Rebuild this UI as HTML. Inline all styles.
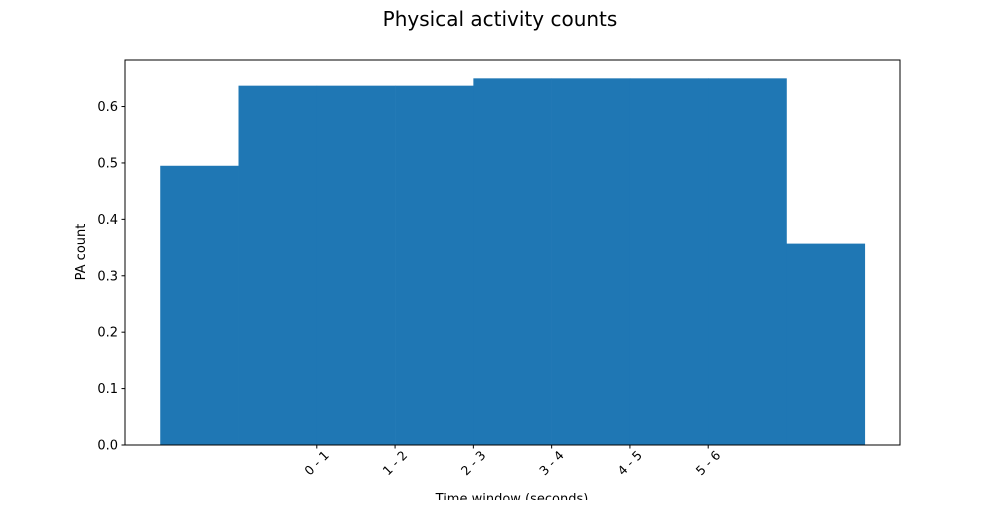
<!DOCTYPE html>
<html><head><meta charset="utf-8"><style>
body{margin:0;background:#fff;}
svg text{font-family:"DejaVu Sans","Liberation Sans",sans-serif;}
</style></head><body>
<svg id="c" width="1000" height="500" viewBox="0 0 1000 500" xmlns="http://www.w3.org/2000/svg">
<rect width="1000" height="500" fill="#fff"/>
<text x="500" y="26" font-size="20" text-anchor="middle">Physical activity counts</text>
<g id="bars"></g>
<g id="axes"></g>
<text x="512" y="503" font-size="13" text-anchor="middle">Time window (seconds)</text>
<text transform="translate(85,252) rotate(-90)" font-size="13" text-anchor="middle">PA count</text>
</svg>
<script>
const values = [0.495, 0.637, 0.637, 0.637, 0.65, 0.65, 0.65, 0.65, 0.357];
const tickLabels = ["0 - 1", "1 - 2", "2 - 3", "3 - 4", "4 - 5", "5 - 6"];
const tickEdges = [2, 3, 4, 5, 6, 7];
const yTicks = [0, 0.1, 0.2, 0.3, 0.4, 0.5, 0.6];
const NS = "http://www.w3.org/2000/svg";
const L = 125, R = 900, T = 60, B = 445;
const n = values.length, xmin = -0.05 * n, xmax = n * 1.05;
const ymax = Math.max(...values) * 1.05;
const xs = v => L + (v - xmin) / (xmax - xmin) * (R - L);
const ys = v => B - v / ymax * (B - T);
function mk(tag, attrs, parent) { const e = document.createElementNS(NS, tag); for (const k in attrs) e.setAttribute(k, attrs[k]); parent.appendChild(e); return e; }
const bars = document.getElementById('bars'), axes = document.getElementById('axes');
values.forEach((v, i) => {
  const r = mk('rect', {x: xs(i), y: ys(v), width: xs(i + 1) - xs(i) + 0.3, height: B - ys(v), fill: '#1f77b4'}, bars);
  
  
});
const frame = mk('rect', {x: L, y: T, width: R - L, height: B - T, fill: 'none', stroke: '#000', 'stroke-width': 1}, axes);


yTicks.forEach(t => {
  const y = ys(t);
  const l = mk('line', {x1: L - 3.5, x2: L, y1: y, y2: y, stroke: '#000'}, axes);
  
  
  const tx = mk('text', {x: L - 7, y: y + 4.5, 'font-size': 13, 'text-anchor': 'end'}, axes);
  tx.textContent = t.toFixed(1);
  
  
});
tickEdges.forEach((e, i) => {
  const x = xs(e);
  const l = mk('line', {x1: x, x2: x, y1: B, y2: B + 3.5, stroke: '#000'}, axes);
  
  
  const tx = mk('text', {transform: `translate(${x + 13},${B + 11}) rotate(-45)`, 'font-size': 12.5, 'text-anchor': 'end'}, axes);
  tx.textContent = tickLabels[i];
  
  
});
</script>
</body></html>
